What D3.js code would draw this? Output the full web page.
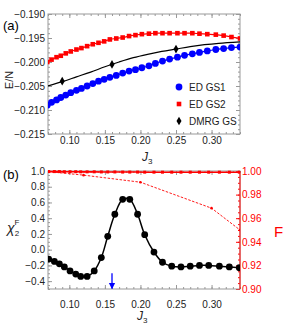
<!DOCTYPE html>
<html>
<head>
<meta charset="utf-8">
<script src="https://cdnjs.cloudflare.com/ajax/libs/d3/7.8.5/d3.min.js"></script>
<style>
body { margin: 0; background: #fff; }
svg { display: block; }
text { font-family: "Liberation Sans", Arial, sans-serif; }
</style>
</head>
<body>
<script>
var w = 285;
var h = 325;

// panel (a): energies
var j3Ed = [0.069, 0.075, 0.082, 0.088, 0.095, 0.102, 0.110, 0.117, 0.125, 0.133, 0.141, 0.149, 0.157, 0.166, 0.175,
    0.184, 0.193, 0.202, 0.212, 0.221, 0.231, 0.241, 0.252, 0.262, 0.273, 0.283, 0.294, 0.306, 0.317, 0.328, 0.340];
var gs1 = [-0.2090, -0.2084, -0.2079, -0.2074, -0.2069, -0.2064, -0.2059, -0.2055, -0.2050, -0.2045, -0.2040, -0.2036,
    -0.2032, -0.2028, -0.2023, -0.2019, -0.2016, -0.2012, -0.2008, -0.2003, -0.1998, -0.1994, -0.1990, -0.1986, -0.1983,
    -0.1980, -0.1977, -0.1974, -0.1972, -0.1970, -0.1969];
var gs2 = [-0.2000, -0.1995, -0.1990, -0.1987, -0.1982, -0.1978, -0.1974, -0.1971, -0.1967, -0.1963, -0.1960, -0.1957,
    -0.1953, -0.1951, -0.1949, -0.1946, -0.1944, -0.1942, -0.1941, -0.1940, -0.1940, -0.1940, -0.1940, -0.1940, -0.1940,
    -0.1941, -0.1942, -0.1943, -0.1945, -0.1948, -0.1951];
var j3Dmrg = [0.09, 0.16, 0.25];
var dmrg = [-0.2040, -0.2005, -0.1973];
var j3Fit = [0.07, 0.09, 0.11, 0.13, 0.15, 0.17, 0.19, 0.21, 0.23, 0.25, 0.27, 0.29, 0.31, 0.34];
var dmrgFit = [-0.2050, -0.2041, -0.2031, -0.2021, -0.2010, -0.2000, -0.1991, -0.1984, -0.1978, -0.1973, -0.1968,
    -0.1964, -0.1961, -0.1958];

// panel (b): fidelity susceptibility and fidelity
var j3Chi = [0.071, 0.079, 0.086, 0.093, 0.101, 0.109, 0.116, 0.125, 0.135, 0.145, 0.154, 0.164, 0.175, 0.185, 0.196,
    0.206, 0.219, 0.231, 0.244, 0.257, 0.270, 0.283, 0.296, 0.311, 0.325, 0.339];
var chi = [-0.12, -0.15, -0.18, -0.22, -0.27, -0.31, -0.34, -0.34, -0.27, -0.10, 0.17, 0.45, 0.64, 0.64, 0.45, 0.19,
    -0.03, -0.16, -0.21, -0.22, -0.21, -0.20, -0.20, -0.21, -0.22, -0.23];
var fTop = [0.9995, 0.9995, 0.9995, 0.9994, 0.9994, 0.9994, 0.9993, 0.9993, 0.9993, 0.9992, 0.9992, 0.9992, 0.9991,
    0.9991, 0.9991, 0.9990, 0.9990, 0.9990, 0.9990, 0.9990, 0.9990, 0.9990, 0.9990, 0.9990, 0.9990, 0.9990];
var j3F = [0.07, 0.12, 0.20, 0.30, 0.34];
var fLow = [0.9995, 0.9965, 0.9905, 0.9685, 0.9500];
var arrowJ3 = 0.16;
var arrowChi = [-0.30, -0.495];

var xTicks = [0.10, 0.15, 0.20, 0.25, 0.30];
var eTicks = [-0.190, -0.195, -0.200, -0.205, -0.210, -0.215];
var chiTicks = [1.0, 0.8, 0.6, 0.4, 0.2, 0.0, -0.2, -0.4];
var fTicks = [1.00, 0.98, 0.96, 0.94, 0.92, 0.90];
var legendNames = ["ED GS1", "ED GS2", "DMRG GS"];

var blue = "#0000ff";
var red = "#ff0000";
var frameColor = "#999";

var svg = d3.select("body").append("svg")
    .attr("width", w)
    .attr("height", h);

var x = d3.scaleLinear().domain([0.07, 0.34]).range([48, 240]);
var yE = d3.scaleLinear().domain([-0.215, -0.190]).range([134, 14]);
var yChi = d3.scaleLinear().domain([-0.5, 1.0]).range([289, 171]);
var yF = d3.scaleLinear().domain([0.90, 1.00]).range([289, 171]);

var defs = svg.append("defs");
defs.append("clipPath").attr("id", "clipA").append("rect")
    .attr("x", 48).attr("y", 14).attr("width", 192).attr("height", 120);
defs.append("clipPath").attr("id", "clipB").append("rect")
    .attr("x", 48).attr("y", 170).attr("width", 192).attr("height", 119);
defs.append("marker").attr("id", "head")
    .attr("viewBox", "0 0 10 10").attr("refX", 9).attr("refY", 5)
    .attr("markerWidth", 5).attr("markerHeight", 6).attr("orient", "auto")
    .append("path").attr("d", "M0,0L10,5L0,10z").attr("fill", blue);

function styleAxis(g, color, fontColor) {
    g.select(".domain").remove();
    g.selectAll("line").attr("stroke", color);
    g.selectAll("text").attr("fill", fontColor).attr("font-size", 10).attr("font-family", "Liberation Sans, Arial, sans-serif");
}

function frameAxes(top, bottom, yScale, yMajor, yMinor, fmt, labelPad) {
    var minorX = d3.range(7, 35).map(function (d) { return d / 100; });
    svg.append("g").attr("transform", "translate(0," + bottom + ")")
        .call(d3.axisBottom(x).tickValues(minorX).tickSize(-2).tickFormat(""))
        .call(styleAxis, frameColor, "#222");
    svg.append("g").attr("transform", "translate(0," + bottom + ")")
        .call(d3.axisBottom(x).tickValues(xTicks).tickSize(-4).tickPadding(labelPad).tickFormat(d3.format(".2f")))
        .call(styleAxis, frameColor, "#222");
    svg.append("g").attr("transform", "translate(0," + top + ")")
        .call(d3.axisTop(x).tickValues(minorX).tickSize(-2).tickFormat(""))
        .call(styleAxis, frameColor, "#222");
    svg.append("g").attr("transform", "translate(0," + top + ")")
        .call(d3.axisTop(x).tickValues(xTicks).tickSize(-4).tickFormat(""))
        .call(styleAxis, frameColor, "#222");
    svg.append("g").attr("transform", "translate(48,0)")
        .call(d3.axisLeft(yScale).tickValues(yMinor).tickSize(-2).tickFormat(""))
        .call(styleAxis, frameColor, "#222");
    svg.append("g").attr("transform", "translate(48,0)")
        .call(d3.axisLeft(yScale).tickValues(yMajor).tickSize(-4).tickPadding(3).tickFormat(d3.format(fmt)))
        .call(styleAxis, frameColor, "#222");
}

// ---------- panel (a)
var eMinor = d3.range(-215, -189).map(function (d) { return d / 1000; });
frameAxes(14, 134, yE, eTicks, eMinor, ".3f", 3);
svg.append("g").attr("transform", "translate(240,0)")
    .call(d3.axisRight(yE).tickValues(eMinor).tickSize(-2).tickFormat(""))
    .call(styleAxis, frameColor, "#222");
svg.append("g").attr("transform", "translate(240,0)")
    .call(d3.axisRight(yE).tickValues(eTicks).tickSize(-4).tickFormat(""))
    .call(styleAxis, frameColor, "#222");
svg.append("rect").attr("x", 48).attr("y", 14).attr("width", 192).attr("height", 120)
    .attr("fill", "none").attr("stroke", frameColor).attr("stroke-width", 1);

var pa = svg.append("g").attr("clip-path", "url(#clipA)");

var lineE = d3.line()
    .x(function (d) { return x(d[0]); })
    .y(function (d) { return yE(d[1]); })
    .curve(d3.curveCatmullRom);

var gs1Pts = d3.zip(j3Ed, gs1);
var gs2Pts = d3.zip(j3Ed, gs2);
var fitPts = d3.zip(j3Fit, dmrgFit);
var dmrgPts = d3.zip(j3Dmrg, dmrg);

pa.append("path").datum(gs1Pts).attr("d", lineE).attr("fill", "none").attr("stroke", blue).attr("stroke-width", 1.2);
pa.append("path").datum(gs2Pts).attr("d", lineE).attr("fill", "none").attr("stroke", red).attr("stroke-width", 1.2);
pa.append("path").datum(fitPts).attr("d", lineE).attr("fill", "none").attr("stroke", "#000").attr("stroke-width", 1.2);

pa.selectAll(".gs1").data(gs1Pts).enter().append("circle")
    .attr("cx", function (d) { return x(d[0]); })
    .attr("cy", function (d) { return yE(d[1]); })
    .attr("r", 3.4)
    .attr("fill", blue);

pa.selectAll(".gs2").data(gs2Pts).enter().append("rect")
    .attr("x", function (d) { return x(d[0]) - 2.3; })
    .attr("y", function (d) { return yE(d[1]) - 2.3; })
    .attr("width", 4.6).attr("height", 4.6)
    .attr("fill", red);

var diamond = d3.symbol().type(d3.symbolDiamond).size(22);
pa.selectAll(".dm").data(dmrgPts).enter().append("path")
    .attr("d", diamond)
    .attr("transform", function (d) { return "translate(" + x(d[0]) + "," + yE(d[1]) + ")"; })
    .attr("fill", "#000");

// legend
var leg = svg.append("g").attr("transform", "translate(179,87)");
leg.append("circle").attr("cx", 0).attr("cy", 0).attr("r", 3.4).attr("fill", blue);
leg.append("rect").attr("x", -2.3).attr("y", 17 - 2.3).attr("width", 4.6).attr("height", 4.6).attr("fill", red);
leg.append("path").attr("d", diamond).attr("transform", "translate(0,34)").attr("fill", "#000");
leg.selectAll("text").data(legendNames).enter().append("text")
    .attr("x", 10)
    .attr("y", function (d, i) { return i * 17; })
    .attr("dy", "0.35em")
    .attr("font-size", 10)
    .attr("fill", "#222")
    .text(function (d) { return d; });

svg.append("text").attr("x", 3).attr("y", 30).attr("font-size", 13)
    .attr("font-family", "Liberation Serif, Times New Roman, serif").text("(a)");
svg.append("text").attr("transform", "translate(13,80) rotate(-90)")
    .attr("text-anchor", "middle").attr("font-size", 11).attr("fill", "#222").text("E/N");
var jA = svg.append("text").attr("x", 142).attr("y", 161).attr("font-size", 12).attr("fill", "#222");
jA.append("tspan").attr("font-style", "italic").text("J");
jA.append("tspan").attr("font-size", 8).attr("dy", 3).text("3");

// ---------- panel (b)
var chiMinor = d3.range(-10, 21).map(function (d) { return d / 20; });
frameAxes(171, 289, yChi, chiTicks, chiMinor, ".1f", 12);

var fMinor = d3.range(180, 201).map(function (d) { return d / 200; });
svg.append("g").attr("transform", "translate(240,0)")
    .call(d3.axisRight(yF).tickValues(fMinor).tickSize(-2).tickFormat(""))
    .call(styleAxis, red, red);
svg.append("g").attr("transform", "translate(240,0)")
    .call(d3.axisRight(yF).tickValues(fTicks).tickSize(-4).tickPadding(2).tickFormat(d3.format(".2f")))
    .call(styleAxis, red, red);

svg.append("rect").attr("x", 48).attr("y", 171).attr("width", 192).attr("height", 118)
    .attr("fill", "none").attr("stroke", frameColor).attr("stroke-width", 1);
svg.append("line").attr("x1", 240).attr("x2", 240).attr("y1", 171).attr("y2", 289)
    .attr("stroke", red).attr("stroke-width", 1);

var pb = svg.append("g").attr("clip-path", "url(#clipB)");

var chiPts = d3.zip(j3Chi, chi);
var fTopPts = d3.zip(j3Chi, fTop);
var fLowPts = d3.zip(j3F, fLow);

pb.append("path").datum(fTopPts)
    .attr("d", d3.line().x(function (d) { return x(d[0]); }).y(function (d) { return yF(d[1]); }))
    .attr("fill", "none").attr("stroke", red).attr("stroke-width", 1.6);
pb.selectAll(".ft").data(fTopPts).enter().append("rect")
    .attr("x", function (d) { return x(d[0]) - 1.5; })
    .attr("y", function (d) { return yF(d[1]) - 1.5; })
    .attr("width", 3).attr("height", 3)
    .attr("fill", red);

pb.append("path").datum(fLowPts)
    .attr("d", d3.line().x(function (d) { return x(d[0]); }).y(function (d) { return yF(d[1]); }))
    .attr("fill", "none").attr("stroke", red).attr("stroke-width", 0.9).attr("stroke-dasharray", "2.5,1.5");
pb.selectAll(".fl").data(fLowPts).enter().append("circle")
    .attr("cx", function (d) { return x(d[0]); })
    .attr("cy", function (d) { return yF(d[1]); })
    .attr("r", 1.3)
    .attr("fill", red);

pb.append("path").datum(chiPts)
    .attr("d", d3.line().x(function (d) { return x(d[0]); }).y(function (d) { return yChi(d[1]); }).curve(d3.curveCatmullRom))
    .attr("fill", "none").attr("stroke", "#000").attr("stroke-width", 1.5);
pb.selectAll(".chi").data(chiPts).enter().append("circle")
    .attr("cx", function (d) { return x(d[0]); })
    .attr("cy", function (d) { return yChi(d[1]); })
    .attr("r", 3.4)
    .attr("fill", "#000");

svg.append("line")
    .attr("x1", x(arrowJ3)).attr("x2", x(arrowJ3))
    .attr("y1", yChi(arrowChi[0])).attr("y2", yChi(arrowChi[1]))
    .attr("stroke", blue).attr("stroke-width", 1.3)
    .attr("marker-end", "url(#head)");

svg.append("text").attr("x", 3).attr("y", 179).attr("font-size", 13)
    .attr("font-family", "Liberation Serif, Times New Roman, serif").text("(b)");
var chiLab = svg.append("text").attr("x", 7).attr("y", 233).attr("font-size", 14).attr("fill", "#222");
chiLab.append("tspan").attr("font-style", "italic").text("χ");
chiLab.append("tspan").attr("font-size", 8).attr("dy", 3).attr("dx", 0).text("2");
chiLab.append("tspan").attr("font-size", 8).attr("dy", -11).attr("dx", -4.5).text("F");
svg.append("text").attr("x", 274).attr("y", 237).attr("font-size", 15).attr("fill", red).text("F");
var jB = svg.append("text").attr("x", 137).attr("y", 320).attr("font-size", 12).attr("fill", "#222");
jB.append("tspan").attr("font-style", "italic").text("J");
jB.append("tspan").attr("font-size", 8).attr("dy", 3).text("3");
</script>
</body>
</html>
